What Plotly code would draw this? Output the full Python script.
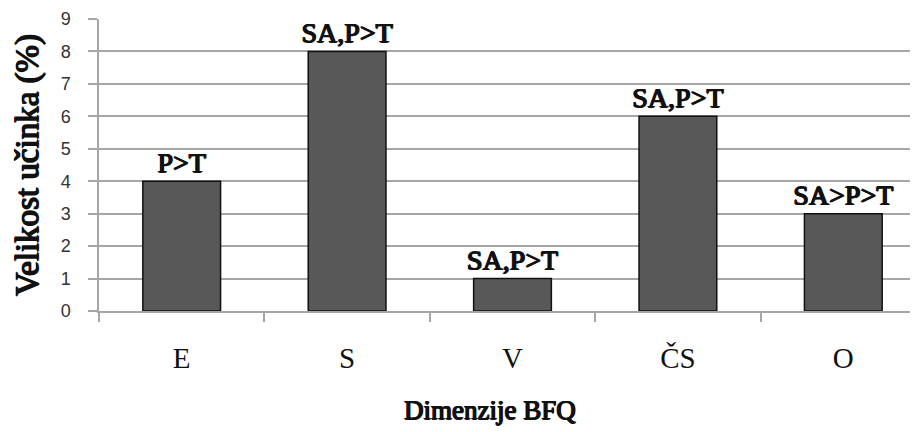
import plotly.graph_objects as go

categories = ["E", "S", "V", "ČS", "O"]
values = [4, 8, 1, 6, 3]
labels = ["P>T", "SA,P>T", "SA,P>T", "SA,P>T", "SA>P>T"]
y_ticks = list(range(0, 10))

SERIF = "Liberation Serif"
SANS = "Liberation Sans, Arial, sans-serif"
FAKE_BOLD = "0.8px 0 0 #111111, -0.8px 0 0 #111111, 0 0.5px 0 #111111, 0 -0.3px 0 #111111"

fig = go.Figure()
fig.add_trace(go.Bar(
    x=categories, y=values, text=labels, textposition="outside",
    cliponaxis=False, constraintext="none",
    textfont=dict(family=SERIF, size=28, color="#111111", shadow=FAKE_BOLD),
    marker=dict(color="#585858", line=dict(color="#111111", width=1.5)),
))
fig.update_layout(
    width=918, height=432,
    margin=dict(l=91, r=0, t=11, b=129, autoexpand=False),
    paper_bgcolor="white", plot_bgcolor="white",
    bargap=0.53, showlegend=False,
    font=dict(family=SERIF),
)
fig.add_annotation(
    text="Dimenzije BFQ", xref="paper", yref="paper", x=0.473, y=-0.339,
    xanchor="center", yanchor="middle", showarrow=False,
    font=dict(family=SERIF, size=27, color="#111111", shadow=FAKE_BOLD),
)
fig.update_yaxes(
    range=[0, 9], tickvals=y_ticks, showgrid=True, gridcolor="#a6a6a6", gridwidth=2,
    showline=True, linecolor="#a6a6a6", linewidth=1.5,
    ticks="outside", ticklen=9, tickcolor="#a6a6a6", tickwidth=1.5,
    ticklabelstandoff=14,
    tickfont=dict(family=SANS, size=18, color="#333333"),
    title=dict(text="Velikost učinka (%)", font=dict(family=SERIF, size=33, color="#111111", shadow=FAKE_BOLD), standoff=12),
    zeroline=False, automargin=False,
)
fig.update_xaxes(
    showline=True, linecolor="#a6a6a6", linewidth=2,
    ticks="outside", ticklen=9, tickcolor="#a6a6a6", tickwidth=1.5, tickson="boundaries",
    ticklabelstandoff=20,
    tickfont=dict(family=SERIF, size=29, color="#111111"),
    automargin=False,
)
fig.write_html("out.html")
